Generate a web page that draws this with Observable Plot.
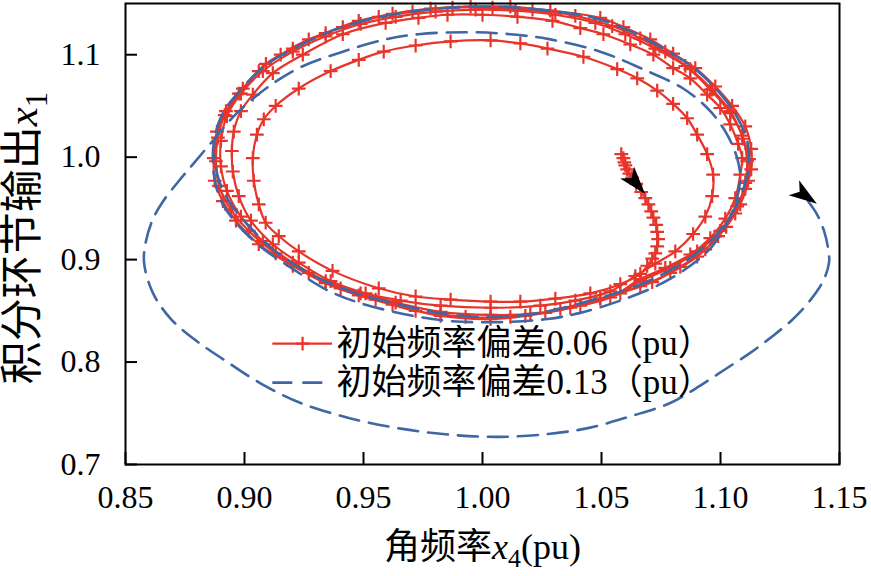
<!DOCTYPE html>
<html><head><meta charset="utf-8">
<script src="https://cdn.jsdelivr.net/npm/d3@7"></script>
<script src="https://cdn.jsdelivr.net/npm/@observablehq/plot@0.6"></script>
<style>
body{margin:0;background:#fff;}
#chart svg{display:block;}
</style>
</head><body><div id="chart"></div>
<script>
// ---- data ----
const xTicks = [0.85, 0.90, 0.95, 1.00, 1.05, 1.10, 1.15];
const yTicks = [0.7, 0.8, 0.9, 1.0, 1.1];
const seriesNames = ["初始频率偏差0.06（pu）", "初始频率偏差0.13（pu）"];
const xTitleParts = ["角频率", "x", "4", "(pu)"];
const yTitleParts = ["积分环节输出", "x", "1"];

// red trajectory, initial deviation 0.06 (x4, x1)
const redStart = [[1.0583,1.0029],[1.0592,0.999],[1.0596,0.995],[1.060,0.992],[1.0608,0.988],[1.0617,0.984],[1.0629,0.980],[1.0646,0.974],[1.0667,0.966],[1.0684,0.960],[1.0697,0.954],[1.0709,0.947],[1.0718,0.941],[1.073,0.934],[1.0734,0.927],[1.0738,0.920],[1.0734,0.913],[1.0726,0.906],[1.0713,0.901],[1.0692,0.894],[1.0663,0.886]];
const redLoop1 = [[1.0579,0.876],[1.0453,0.867],[1.0306,0.862],[1.0159,0.859],[1.0034,0.859],[0.9866,0.861],[0.9719,0.864],[0.9564,0.872],[0.937,0.889],[0.9228,0.908],[0.9144,0.923],[0.9089,0.936],[0.906,0.954],[0.9039,0.977],[0.9035,0.999],[0.9052,1.022],[0.9081,1.037],[0.9131,1.050],[0.9228,1.067],[0.9362,1.084],[0.948,1.095],[0.9585,1.103],[0.9719,1.109],[0.9866,1.113],[1.0034,1.114],[1.0159,1.111],[1.0273,1.106],[1.0424,1.098],[1.0566,1.086],[1.065,1.077],[1.0734,1.065],[1.0801,1.052],[1.086,1.038],[1.0902,1.022],[1.0944,1.003],[1.0969,0.983],[1.0965,0.962],[1.0936,0.942],[1.0885,0.925],[1.081,0.908],[1.0726,0.896],[1.0642,0.884]];
const redLoop2 = [[1.0537,0.869],[1.039,0.860],[1.0243,0.855],[1.0034,0.853],[0.9824,0.855],[0.9656,0.860],[0.9509,0.867],[0.9362,0.879],[0.9228,0.897],[0.9119,0.915],[0.9027,0.938],[0.8976,0.962],[0.8951,0.986],[0.8947,1.006],[0.8955,1.025],[0.8985,1.045],[0.9035,1.061],[0.9119,1.082],[0.9245,1.100],[0.9413,1.120],[0.9593,1.131],[0.9731,1.136],[0.9853,1.139],[1.0,1.139],[1.0147,1.137],[1.0294,1.133],[1.0411,1.126],[1.0508,1.120],[1.0621,1.110],[1.0718,1.100],[1.0801,1.087],[1.0873,1.077],[1.0944,1.061],[1.0999,1.048],[1.1041,1.032],[1.1074,1.013],[1.1091,0.999],[1.1083,0.983],[1.1062,0.960],[1.102,0.940],[1.0957,0.921],[1.0873,0.905],[1.0768,0.892],[1.0663,0.881]];
const redLoop3 = [[1.0537,0.863],[1.0369,0.853],[1.0201,0.847],[1.0034,0.846],[0.9824,0.849],[0.9635,0.858],[0.9488,0.867],[0.9341,0.879],[0.9203,0.897],[0.9077,0.918],[0.8985,0.942],[0.8926,0.967],[0.8901,0.991],[0.8901,1.016],[0.8926,1.040],[0.8985,1.062],[0.9077,1.084],[0.9203,1.103],[0.9341,1.118],[0.9488,1.130],[0.9635,1.137],[0.9803,1.142],[0.9971,1.144],[1.0138,1.143],[1.0306,1.139],[1.0474,1.131],[1.06,1.120],[1.0726,1.106],[1.0852,1.089],[1.0957,1.066],[1.1041,1.043],[1.1095,1.018],[1.1112,0.996],[1.1104,0.975],[1.107,0.952],[1.0999,0.928],[1.0902,0.908],[1.0789,0.892],[1.0663,0.879]];
const redLoop4 = [[1.0579,0.867],[1.0411,0.855],[1.0264,0.848],[1.0117,0.844],[0.9929,0.844],[0.9719,0.850],[0.9551,0.861],[0.9404,0.872],[0.927,0.887],[0.9131,0.906],[0.9018,0.928],[0.8943,0.949],[0.8893,0.972],[0.888,0.996],[0.8888,1.019],[0.8917,1.041],[0.8976,1.062],[0.906,1.084],[0.9152,1.100],[0.927,1.115],[0.9413,1.127],[0.9564,1.137],[0.9706,1.142],[0.9874,1.146],[1.0042,1.146],[1.021,1.144],[1.039,1.138],[1.0545,1.128],[1.0663,1.116],[1.0768,1.103],[1.0873,1.086],[1.0965,1.066],[1.1041,1.045],[1.1091,1.021],[1.112,0.998],[1.1116,0.977],[1.1083,0.954],[1.1024,0.932],[1.0936,0.910],[1.0831,0.893],[1.0713,0.878]];
const redLoop5 = [[1.0495,0.862],[1.0327,0.852],[1.018,0.845],[1.0034,0.842],[0.9824,0.845],[0.9622,0.856],[0.948,0.865],[0.9341,0.877],[0.9203,0.894],[0.906,0.915],[0.8964,0.938],[0.8909,0.957],[0.8875,0.977],[0.8871,0.999],[0.8884,1.025],[0.8922,1.045],[0.8993,1.067],[0.909,1.091],[0.9203,1.106],[0.9341,1.121],[0.948,1.133],[0.9622,1.140],[0.9782,1.145],[0.995,1.147],[1.0117,1.147],[1.0285,1.143],[1.0495,1.136],[1.0592,1.127],[1.0705,1.115],[1.0801,1.101],[1.0894,1.087],[1.0978,1.069],[1.1049,1.050],[1.1104,1.030],[1.1129,1.008],[1.1129,0.988],[1.1104,0.969],[1.1062,0.945],[1.099,0.923],[1.0902,0.903],[1.0789,0.887],[1.0663,0.874],[1.0495,0.862]];

// blue trajectory, initial deviation 0.13
const blueLoop1 = [[1.1368,0.957],[1.1406,0.944],[1.1435,0.928],[1.1452,0.911],[1.1456,0.897],[1.1431,0.879],[1.1376,0.860],[1.1305,0.842],[1.1217,0.825],[1.1125,0.809],[1.102,0.793],[1.0915,0.777],[1.0789,0.760],[1.0621,0.747],[1.0453,0.736],[1.0285,0.730],[1.0076,0.727],[0.9866,0.729],[0.9656,0.735],[0.9446,0.745],[0.9236,0.760],[0.9069,0.779],[0.8922,0.801],[0.8796,0.821],[0.8691,0.842],[0.8616,0.867],[0.8578,0.897],[0.8586,0.918],[0.8616,0.940],[0.8658,0.957],[0.8725,0.977],[0.8783,0.993],[0.8867,1.016],[0.8964,1.042],[0.909,1.067],[0.9228,1.087],[0.9413,1.103],[0.9593,1.115],[0.9731,1.120],[0.9937,1.122],[1.0117,1.120],[1.0285,1.115],[1.0495,1.103],[1.0663,1.087],[1.0843,1.067],[1.0957,1.045],[1.1028,1.022],[1.107,0.999],[1.1083,0.980]];
const blueLoop2 = [[1.1066,0.957],[1.1028,0.936],[1.0965,0.913],[1.0873,0.894],[1.0747,0.876],[1.0579,0.860],[1.0411,0.848],[1.0273,0.842],[1.0076,0.839],[0.9866,0.840],[0.969,0.846],[0.948,0.858],[0.9341,0.871],[0.9203,0.891],[0.906,0.914],[0.8964,0.936],[0.8909,0.954],[0.888,0.972],[0.8867,0.996]];
const blueLoop3 = [[0.8875,1.020],[0.8909,1.043],[0.8985,1.066],[0.909,1.090],[0.9216,1.107],[0.9362,1.123],[0.953,1.135],[0.9698,1.142],[0.9866,1.146],[1.0055,1.147],[1.0243,1.144],[1.0453,1.137],[1.0621,1.123],[1.0768,1.105],[1.0894,1.086],[1.0999,1.062],[1.107,1.039],[1.1112,1.016],[1.112,0.993],[1.1099,0.971],[1.1053,0.947],[1.0978,0.923],[1.0881,0.903],[1.0768,0.887],[1.0621,0.872],[1.0453,0.860],[1.0264,0.849],[1.0055,0.844],[0.9845,0.847],[0.9635,0.857],[0.9446,0.869],[0.9278,0.886],[0.9131,0.908],[0.9018,0.933],[0.8934,0.957],[0.8888,0.981],[0.8875,1.001]];

// direction arrowheads (x4, x1, heading in degrees)
const arrowX = [1.0638, 1.1347];
const arrowY = [0.9766, 0.9639];
const arrowHeading = [140, 125];

// ---- build ----
const red = [...redStart, ...redLoop1, ...redLoop2, ...redLoop3, ...redLoop4, ...redLoop5];
const blue = [...blueLoop1, ...blueLoop2, ...blueLoop3];
const arrows = arrowX.map((x, i) => ({x, y: arrowY[i], a: arrowHeading[i]}));

const RED = "#e8352b";
const BLUE = "#3e67a3";
const FONT = "'Liberation Serif','Noto Sans CJK SC',serif";

const arrowHead = {
  draw(ctx, size) {
    const r = Math.sqrt(size / Math.PI);
    ctx.moveTo(0, -r * 1.2);
    ctx.lineTo(r * 0.65, r * 0.8);
    ctx.lineTo(0, r * 0.3);
    ctx.lineTo(-r * 0.65, r * 0.8);
    ctx.closePath();
  }
};

const legY = [0.8179, 0.7799];
const legend = seriesNames.map((name, i) => ({name, y: legY[i]}));

const plot = Plot.plot({
  width: 871, height: 576,
  marginLeft: 125, marginRight: 32, marginTop: 3, marginBottom: 112,
  x: {domain: [0.85, 1.15], label: null},
  y: {domain: [0.7, 1.15], label: null},
  style: {fontFamily: FONT, fontSize: "32px", color: "black", background: "white"},
  marks: [
    Plot.line(red, {x: d => d[0], y: d => d[1], stroke: RED, strokeWidth: 2.2, curve: "catmull-rom"}),
    Plot.dot(red, {x: d => d[0], y: d => d[1], symbol: "plus", r: 4.5, stroke: RED, strokeWidth: 2.2}),
    Plot.line(blue, {x: d => d[0], y: d => d[1], stroke: BLUE, strokeWidth: 2.6, strokeDasharray: "20,10", curve: "catmull-rom"}),
    Plot.dot(arrows, {x: "x", y: "y", rotate: "a", symbol: arrowHead, r: 14, fill: "black", stroke: "none"}),
    // legend
    Plot.ruleY([legend[0]], {y: "y", x1: 0.9119, x2: 0.937, stroke: RED, strokeWidth: 2.2}),
    Plot.dot([legend[0]], {y: "y", x: () => 0.9244, symbol: "plus", r: 4.5, stroke: RED, strokeWidth: 2.2}),
    Plot.ruleY([legend[1]], {y: "y", x1: 0.9119, x2: 0.937, stroke: BLUE, strokeWidth: 2.6, strokeDasharray: "20,10"}),
    Plot.text(legend, {y: "y", x: () => 0.9387, text: "name", textAnchor: "start", lineAnchor: "middle", fontSize: 35, fill: "black"}),
    // axes
    Plot.frame({stroke: "black", strokeWidth: 2}),
    Plot.axisX(xTicks, {label: null, tickSize: -12, tickPadding: 33, tickFormat: d3.format(".2f"), strokeWidth: 2, fontSize: 32}),
    Plot.axisY(yTicks, {label: null, tickSize: -12, tickPadding: 37, tickFormat: d3.format(".1f"), strokeWidth: 2, fontSize: 32}),
    Plot.text([xTitleParts.join("")], {frameAnchor: "bottom", dy: 83, textAnchor: "middle", lineAnchor: "middle", fontSize: 36, className: "xtitle"}),
    Plot.text([yTitleParts.join("")], {frameAnchor: "left", dx: -102, dy: 4, rotate: -90, textAnchor: "middle", lineAnchor: "middle", fontSize: 43, className: "ytitle"})
  ]
});
document.getElementById("chart").appendChild(plot);

function richTitle(sel, parts) {
  const t = plot.querySelector(sel + " text");
  if (!t) return;
  t.textContent = "";
  const ns = "http://www.w3.org/2000/svg";
  const add = (txt, attrs) => { const s = document.createElementNS(ns, "tspan"); s.textContent = txt; for (const k in attrs) s.setAttribute(k, attrs[k]); t.appendChild(s); };
  add(parts[0], {});
  add(parts[1], {"font-style": "italic"});
  add(parts[2], {"font-size": "0.72em", dy: "0.3em"});
  if (parts[3]) add(parts[3], {dy: "-0.22em"});
}
richTitle(".xtitle", xTitleParts);
richTitle(".ytitle", yTitleParts);
</script>
</body></html>
